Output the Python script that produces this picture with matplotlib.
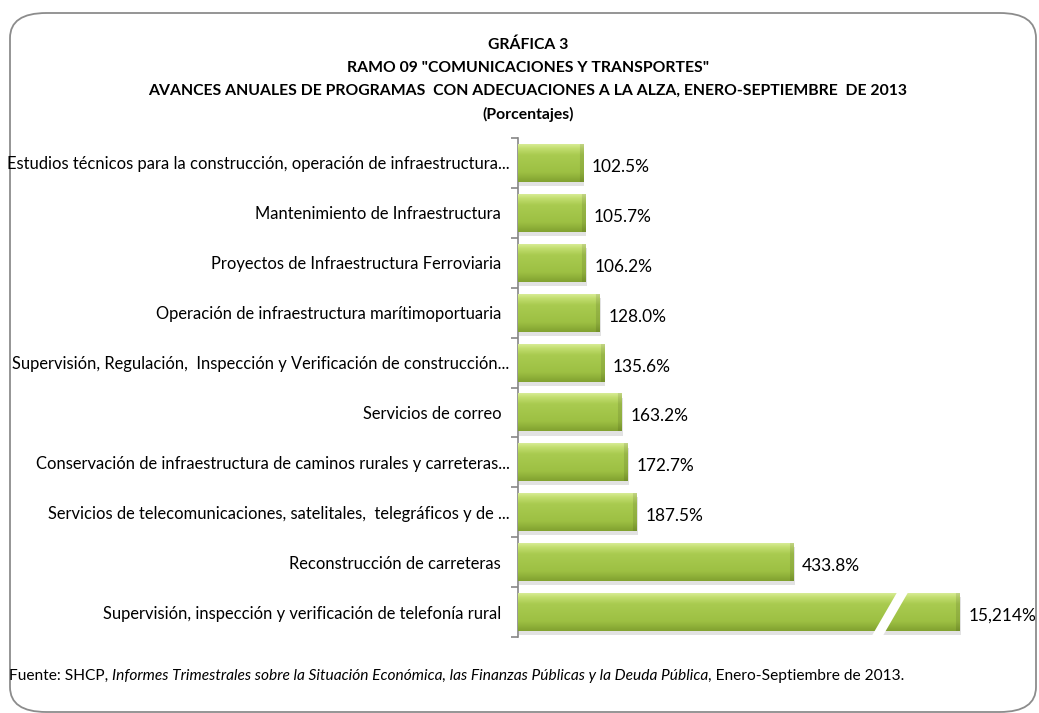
import numpy as np
import matplotlib.pyplot as plt
import matplotlib.patheffects as pe
from matplotlib.patches import FancyBboxPatch, Polygon
from matplotlib.colors import to_rgb

plt.rcParams['font.family'] = ['Liberation Sans Narrow', 'Lato', 'DejaVu Sans']

# datos (de arriba hacia abajo)
categorias = [
    "Estudios técnicos para la construcción, operación de infraestructura...",
    "Mantenimiento de Infraestructura  ",
    "Proyectos de Infraestructura Ferroviaria  ",
    "Operación de infraestructura marítimoportuaria  ",
    "Supervisión, Regulación,  Inspección y Verificación de construcción...",
    "Servicios de correo  ",
    "Conservación de infraestructura de caminos rurales y carreteras...",
    "Servicios de telecomunicaciones, satelitales,  telegráficos y de ...",
    "Reconstrucción de carreteras  ",
    "Supervisión, inspección y verificación de telefonía rural  ",
]
avance = [102.5, 105.7, 106.2, 128.0, 135.6, 163.2, 172.7, 187.5, 433.8, 15214.0]
etiquetas = ["102.5%", "105.7%", "106.2%", "128.0%", "135.6%",
             "163.2%", "172.7%", "187.5%", "433.8%", "15,214%"]

titulos = [
    "GRÁFICA 3",
    'RAMO 09 "COMUNICACIONES Y TRANSPORTES"',
    "AVANCES ANUALES DE PROGRAMAS  CON ADECUACIONES A LA ALZA, ENERO-SEPTIEMBRE  DE 2013",
    "(Porcentajes)",
]
fuente = [
    ("Fuente: SHCP,", "normal"),
    ("Informes Trimestrales sobre la Situación Económica, las Finanzas Públicas y la Deuda Pública", "italic"),
    (", Enero-Septiembre de 2013.", "normal"),
]

# la barra de 15,214% se dibuja cortada
tope_visible = 696
xmax = 815

W, H = 1039, 713
fig = plt.figure(figsize=(W / 100, H / 100), dpi=100)

# marco redondeado
marco = FancyBboxPatch((10 / W, 1 / H), 1026 / W, 699 / H,
                       boxstyle="round,pad=0,rounding_size=0.035",
                       transform=fig.transFigure, facecolor='none',
                       edgecolor='#8c8c8c', linewidth=1.3, zorder=-1)
fig.patches.append(marco)

ax = fig.add_axes([518 / W, (H - 637) / H, (1035 - 518) / W, (637 - 138) / H])
ax.set_facecolor('none')

y = np.arange(len(categorias))
ancho = np.minimum(avance, tope_visible)
alto = 0.76
bars = ax.barh(y, ancho, height=alto, color='#9cbf43', edgecolor='none', zorder=2)

# sombreado tipo excel
stops = [(0.0, '#d6eb92'), (0.1, '#c3de70'), (0.28, '#a9cb50'),
         (0.75, '#9dc043'), (1.0, '#82a230')]
filas = 40
tv = np.linspace(0, 1, filas)
grad = np.zeros((filas, 3))
for c in range(3):
    grad[:, c] = np.interp(tv, [s[0] for s in stops], [to_rgb(s[1])[c] for s in stops])

px_por_unidad = (1035 - 518) / xmax
for b in bars:
    b.set_path_effects([pe.SimplePatchShadow(offset=(1, -3), shadow_rgbFace='#a0a0a0', alpha=0.3),
                        pe.Normal()])
    x0, y0 = b.get_xy()
    w, h = b.get_width(), b.get_height()
    cols = max(int(w * px_por_unidad), 10)
    img = np.repeat(grad[:, None, :], cols, axis=1)
    img[:, -4:, :] *= 0.9
    im = ax.imshow(img, extent=[x0, x0 + w, y0 + h, y0], aspect='auto',
                   interpolation='bilinear', zorder=3)
    im.set_clip_path(b)

# corte de la barra grande
ult = bars[-1]
x0, y0 = ult.get_xy()
w, h = ult.get_width(), ult.get_height()
xt, xb = x0 + 0.874 * w, x0 + 0.815 * w
g = 5.5 / px_por_unidad
yt, yb = y0 - 0.06, y0 + h + 0.08
ax.add_patch(Polygon([(xt - g, yt), (xt + g, yt), (xb + g, yb), (xb - g, yb)],
                     closed=True, facecolor='white', edgecolor='none', zorder=5))

for yi, wi, lab in zip(y, ancho, etiquetas):
    ax.annotate(lab, (wi, yi), xytext=(9, -4), textcoords='offset pixels',
                ha='left', va='center', fontsize=12.4, color='black', zorder=6)

ax.set_xlim(0, xmax)
ax.set_ylim(len(categorias) - 0.5, -0.5)
ax.set_xticks([])
ax.set_yticks(y)
ax.set_yticklabels(categorias, fontsize=11.9)
ax.set_yticks(np.arange(len(categorias) + 1) - 0.5, minor=True)
ax.tick_params(axis='y', which='major', length=0, pad=6)
ax.tick_params(axis='y', which='minor', length=5, color='#868686', width=1.2)
for s in ['top', 'right', 'bottom']:
    ax.spines[s].set_visible(False)
ax.spines['left'].set_color('#868686')
ax.spines['left'].set_linewidth(1.2)

# títulos
for yy, t in zip([45, 68, 91, 114], titulos):
    fig.text(528 / W, 1 - yy / H, t, ha='center', va='center',
             fontsize=11.3, fontweight='bold')

# fuente con partes en cursiva
renderer = fig.canvas.get_renderer()
xx = 9
for i, (txt, estilo) in enumerate(fuente):
    if i == 1:
        xx += 4
    t = fig.text(xx / W, 1 - 676 / H, txt, ha='left', va='center',
                 fontsize=11.2, fontstyle=estilo)
    xx = t.get_window_extent(renderer).x1

fig.savefig("out.png", dpi=100)
